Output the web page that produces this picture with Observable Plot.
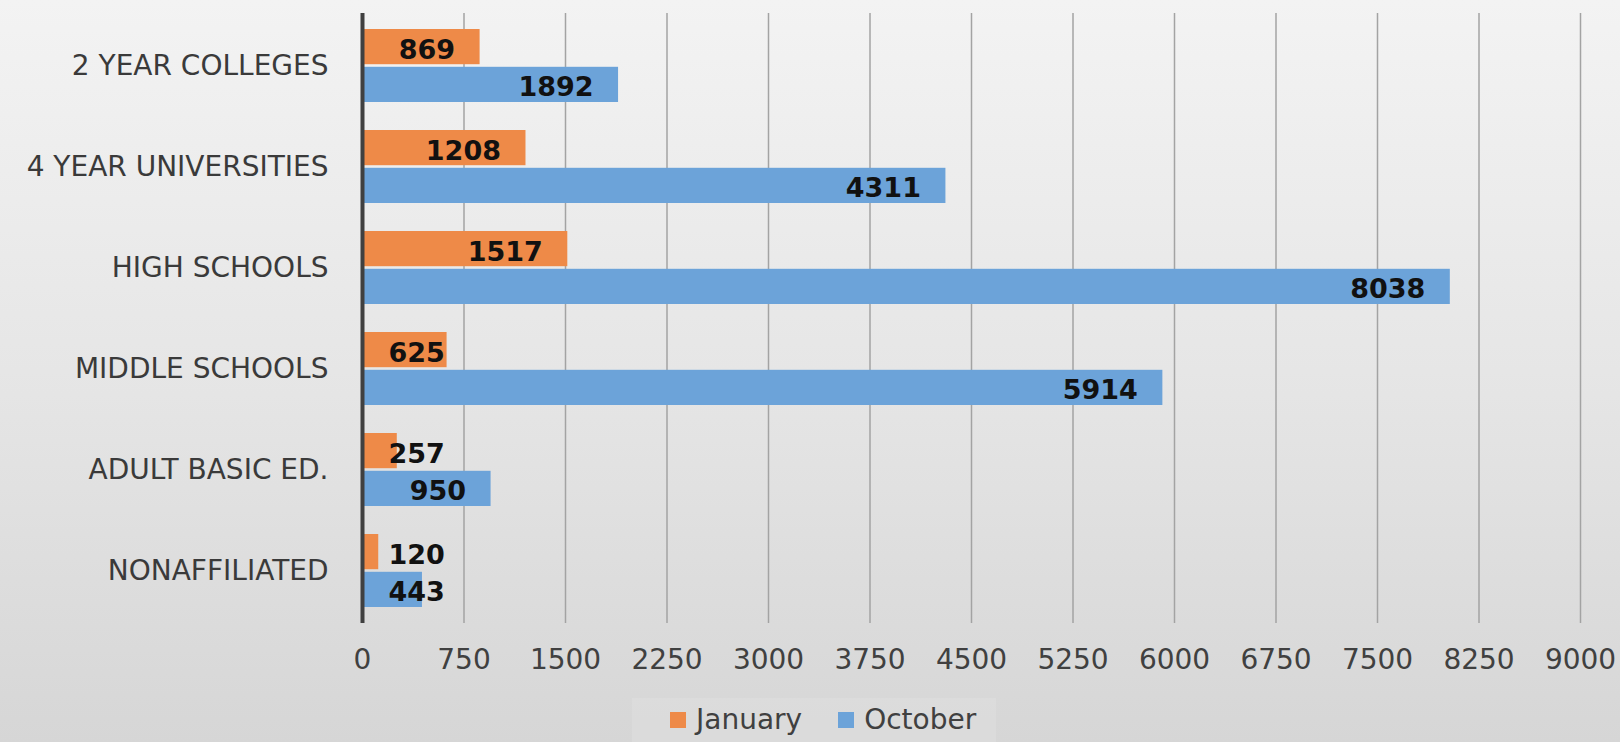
<!DOCTYPE html>
<html>
<head>
<meta charset="utf-8">
<script src="https://cdn.jsdelivr.net/npm/d3@7"></script>
<script src="https://cdn.jsdelivr.net/npm/@observablehq/plot@0.6"></script>
<style>
  html, body { margin: 0; padding: 0; }
  #wrap {
    position: relative;
    width: 1620px; height: 742px; overflow: hidden;
    background: linear-gradient(to bottom, #f3f3f3 0%, #e6e6e6 50%, #d6d6d6 100%);
    font-family: "DejaVu Sans", sans-serif;
  }
  #chart svg { display: block; }
  #legend {
    position: absolute; top: 698px; left: 632px;
    height: 44px; padding: 0 20px 0 38px;
    background: rgba(255,255,255,0.12);
    display: flex; align-items: center;
    font-size: 28px; color: #404040; line-height: 1;
  }
  #legend .sw { display: inline-block; width: 16px; height: 16px; margin-right: 10px; }
  #legend .item { display: flex; align-items: center; margin-right: 36px; }
  #legend .item:last-child { margin-right: 0; }
</style>
</head>
<body>
<div id="wrap">
  <div id="chart"></div>
  <div id="legend"></div>
</div>
<script>
const categories = ["2 YEAR COLLEGES", "4 YEAR UNIVERSITIES", "HIGH SCHOOLS", "MIDDLE SCHOOLS", "ADULT BASIC ED.", "NONAFFILIATED"];
const january = [869, 1208, 1517, 625, 257, 120];
const october = [1892, 4311, 8038, 5914, 950, 443];
const seriesNames = ["January", "October"];
const seriesColors = ["#EE8A48", "#6CA3D9"];
const xTicks = [0, 750, 1500, 2250, 3000, 3750, 4500, 5250, 6000, 6750, 7500, 8250, 9000];
const labelInsideMin = 800; // smaller bars get their label pushed past the axis

const jan = categories.map((c, i) => ({category: c, series: seriesNames[0], value: january[i]}));
const oct = categories.map((c, i) => ({category: c, series: seriesNames[1], value: october[i]}));

const labelStyle = {fontSize: 27, fontWeight: "bold", fill: "#111"};
const fits = d => d.value >= labelInsideMin;
const small = d => d.value < labelInsideMin;

const chart = Plot.plot({
  width: 1620,
  height: 695,
  marginLeft: 362,
  marginRight: 40,
  marginTop: 13,
  marginBottom: 72,
  style: {background: "transparent", fontFamily: "DejaVu Sans, sans-serif", overflow: "visible"},
  x: {domain: [0, 9000], label: null},
  y: {domain: categories, paddingInner: 0.28, paddingOuter: 0.14, label: null},
  marks: [
    Plot.ruleX(xTicks.slice(1), {stroke: "#a3a3a3", strokeWidth: 1.5}),
    Plot.barX(jan, {x: "value", y: "category", fill: seriesColors[0], insetBottom: 37.8}),
    Plot.barX(oct, {x: "value", y: "category", fill: seriesColors[1], insetTop: 37.8}),
    Plot.ruleX([0], {stroke: "#404040", strokeWidth: 4}),
    Plot.text(jan.filter(fits), {x: "value", y: "category", text: d => String(d.value), textAnchor: "end", dx: -25, dy: -16, ...labelStyle}),
    Plot.text(jan.filter(small), {x: () => 0, y: "category", text: d => String(d.value), textAnchor: "start", dx: 26, dy: -16, ...labelStyle}),
    Plot.text(oct.filter(fits), {x: "value", y: "category", text: d => String(d.value), textAnchor: "end", dx: -25, dy: 21, ...labelStyle}),
    Plot.text(oct.filter(small), {x: () => 0, y: "category", text: d => String(d.value), textAnchor: "start", dx: 26, dy: 21, ...labelStyle}),
    Plot.axisX({ticks: xTicks, tickSize: 0, tickPadding: 26, fontSize: 28, fill: "#404040", label: null, tickFormat: d => String(d)}),
    Plot.axisY({tickSize: 0, tickPadding: 34, fontSize: 28, fill: "#3a3a3a", label: null})
  ]
});
document.getElementById("chart").appendChild(chart);

const legend = document.getElementById("legend");
seriesNames.forEach((name, i) => {
  const item = document.createElement("span");
  item.className = "item";
  const sw = document.createElement("span");
  sw.className = "sw";
  sw.style.background = seriesColors[i];
  item.appendChild(sw);
  item.appendChild(document.createTextNode(name));
  legend.appendChild(item);
});
</script>
</body>
</html>
